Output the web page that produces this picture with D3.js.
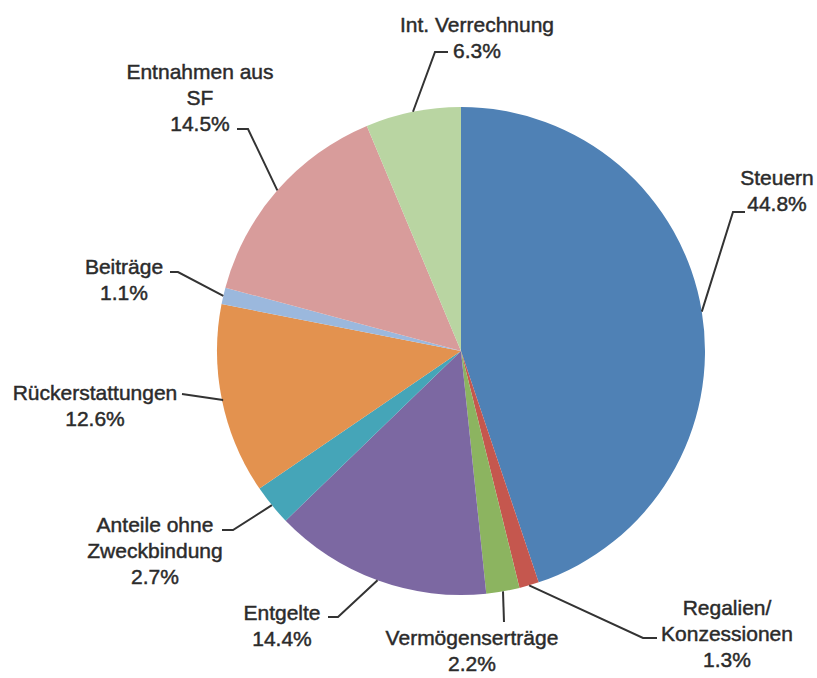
<!DOCTYPE html>
<html>
<head>
<meta charset="utf-8">
<script src="https://cdn.jsdelivr.net/npm/d3@7/dist/d3.min.js"></script>
<style>
  body { margin: 0; background: #fff; }
  svg text { font-family: "Liberation Sans", Arial, sans-serif; font-size: 21px; fill: #2b2b2b; stroke: #2b2b2b; stroke-width: 0.45px; }
</style>
</head>
<body>
<svg width="817" height="678"></svg>
<script>
var names = ['Steuern', 'Regalien/Konzessionen', 'Vermögenserträge', 'Entgelte', 'Anteile ohne Zweckbindung',
  'Rückerstattungen', 'Beiträge', 'Entnahmen aus SF', 'Int. Verrechnung'];
var shares = [44.8, 1.3, 2.2, 14.4, 2.7, 12.6, 1.1, 14.5, 6.3];
var labelLines = [['Steuern'], ['Regalien/', 'Konzessionen'], ['Vermögenserträge'], ['Entgelte'],
  ['Anteile ohne', 'Zweckbindung'], ['Rückerstattungen'], ['Beiträge'], ['Entnahmen aus', 'SF'], ['Int. Verrechnung']];
var colors = ['#4f81b5', '#c5574e', '#8cb460', '#7c68a2', '#45a5b8', '#e3924f', '#9bb8dd', '#d89c9b', '#b9d5a2'];

// label placement: text centre x, first line y, elbow of the leader line, end of the leader line
var layout = [
  { x: 777, y: 178, elbow: [733, 212], end: [745, 212] },
  { x: 727, y: 608, elbow: [643, 638], end: [657, 638] },
  { x: 472, y: 638, elbow: [504, 622], end: [504, 622] },
  { x: 282, y: 613, elbow: [338, 617], end: [328, 617] },
  { x: 155, y: 525, elbow: [233, 530], end: [222, 530] },
  { x: 95,  y: 393, elbow: [223, 400], end: [182, 394] },
  { x: 124, y: 267, elbow: [178, 272], end: [170, 272] },
  { x: 200, y: 72,  elbow: [248, 129], end: [237, 129] },
  { x: 477, y: 25,  elbow: [435, 52], end: [448, 52] }
];

var cx = 461, cy = 351, radius = 244, lineHeight = 26;

var data = names.map(function(n, i) {
  return { name: n, value: shares[i], lines: labelLines[i], color: colors[i], pos: layout[i] };
});

var svg = d3.select('svg');
var g = svg.append('g').attr('transform', 'translate(' + cx + ',' + cy + ')');

var pie = d3.pie().sort(null).value(function(d) { return d.value; });
var arc = d3.arc().innerRadius(0).outerRadius(radius);
var arcs = pie(data);

g.selectAll('path.slice').data(arcs).enter()
  .append('path')
  .attr('class', 'slice')
  .attr('d', arc)
  .attr('fill', function(d) { return d.data.color; });

// leader lines start on the outer edge at the middle angle of each slice
svg.selectAll('polyline.leader').data(arcs).enter()
  .append('polyline')
  .attr('class', 'leader')
  .attr('fill', 'none')
  .attr('stroke', '#333')
  .attr('stroke-width', 2)
  .attr('points', function(d) {
    var a = (d.startAngle + d.endAngle) / 2;
    var sx = cx + radius * Math.sin(a), sy = cy - radius * Math.cos(a);
    return [[sx, sy], d.data.pos.elbow, d.data.pos.end].map(function(p) { return p.join(','); }).join(' ');
  });

var labels = svg.selectAll('text.label').data(arcs).enter()
  .append('text')
  .attr('class', 'label')
  .attr('text-anchor', 'middle');

labels.each(function(d) {
  var t = d3.select(this);
  var rows = d.data.lines.concat([d.data.value.toFixed(1) + '%']);
  rows.forEach(function(r, i) {
    t.append('tspan')
      .attr('x', d.data.pos.x)
      .attr('y', d.data.pos.y + i * lineHeight)
      .attr('dy', '0.35em')
      .text(r);
  });
});
</script>
</body>
</html>
